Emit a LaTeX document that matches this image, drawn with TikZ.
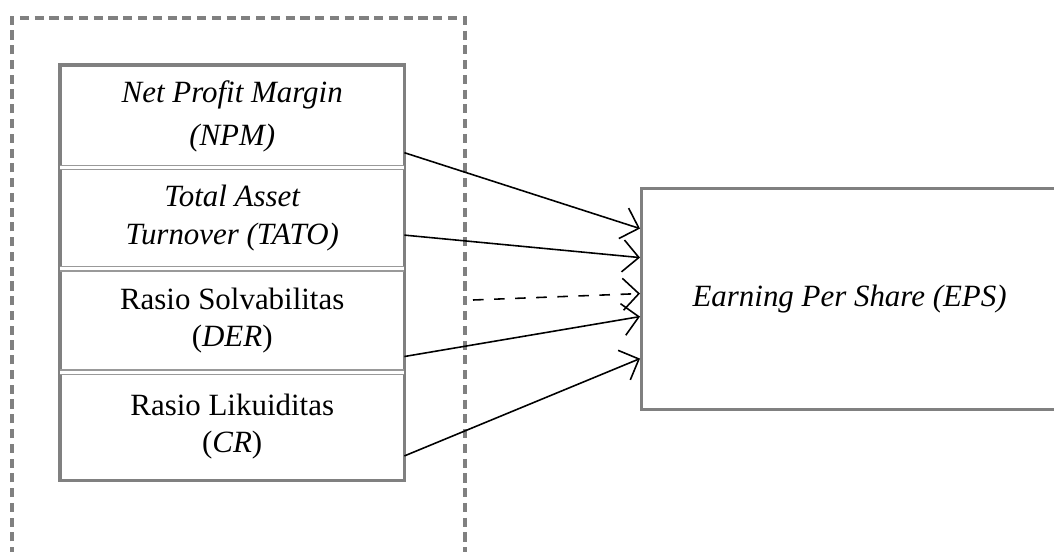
\documentclass[tikz,border=0pt]{standalone}
\usepackage{fontspec}
\setmainfont{Liberation Serif}
\usetikzlibrary{arrows.meta,positioning}

\tikzset{
  var/.style={minimum width=3.43cm, inner sep=0pt, align=center,
    font=\fontsize{8.8}{10.6}\selectfont},
  frame/.style={draw=gray, line width=0.9pt},
  divider/.style={draw=gray!80, line width=0.35pt, double, double distance=0.9pt},
  link/.style={-{Straight Barb[length=1.6mm,width=3.2mm]}, line width=0.45pt}
}

\begin{document}
\begin{tikzpicture}
        \useasboundingbox (0,0) rectangle (10.54,5.51);
        \clip (0,0) rectangle (10.54,5.51);

        % Dashed group
        \draw [gray, line width=1pt, dash pattern=on 2.6pt off 1.6pt]
          (0.12,-0.2) -- (0.12,5.33) -- (4.65,5.33) -- (4.65,-0.2);

        % Independent variables
        \node [var, anchor=north west, minimum height=1.01cm] (npm) at (0.60,4.86)
          {\itshape Net Profit Margin\\[1.6pt] \itshape (NPM)};
        \node [var, below=0pt of npm, minimum height=1.00cm] (tato)
          {\itshape Total Asset\\ \itshape Turnover (TATO)};
        \node [var, below=0pt of tato, minimum height=1.02cm] (der)
          {Rasio Solvabilitas\\(\textit{DER})};
        \node [var, below=0pt of der, minimum height=1.07cm] (cr)
          {Rasio Likuiditas\\(\textit{CR})};
        \draw [frame] (npm.north west) rectangle (cr.south east);
        \draw [divider] (npm.south west) -- (npm.south east);
        \draw [divider] (tato.south west) -- (tato.south east);
        \draw [divider] (der.south west) -- (der.south east);

        % Dependent variable
        \node [frame, anchor=north west, minimum width=4.16cm, minimum height=2.21cm,
          font=\fontsize{8.8}{10.6}\selectfont\itshape] (eps) at (6.40,3.64)
          {Earning Per Share (EPS)};

        % Arrows
        \coordinate (dstart) at (4.73,2.51);
        \draw [link] ([yshift=-0.365cm]npm.east) -- ([yshift=0.705cm]eps.west);
        \draw [link] ([yshift=-0.17cm]tato.east) -- ([yshift=0.415cm]eps.west);
        \draw [link, dashed] (dstart) -- ([yshift=0.055cm]eps.west);
        \draw [link] ([yshift=-0.36cm]der.east) -- ([yshift=-0.175cm]eps.west);
        \draw [link] ([yshift=-0.295cm]cr.east) -- ([yshift=-0.595cm]eps.west);
      \end{tikzpicture}
\end{document}
